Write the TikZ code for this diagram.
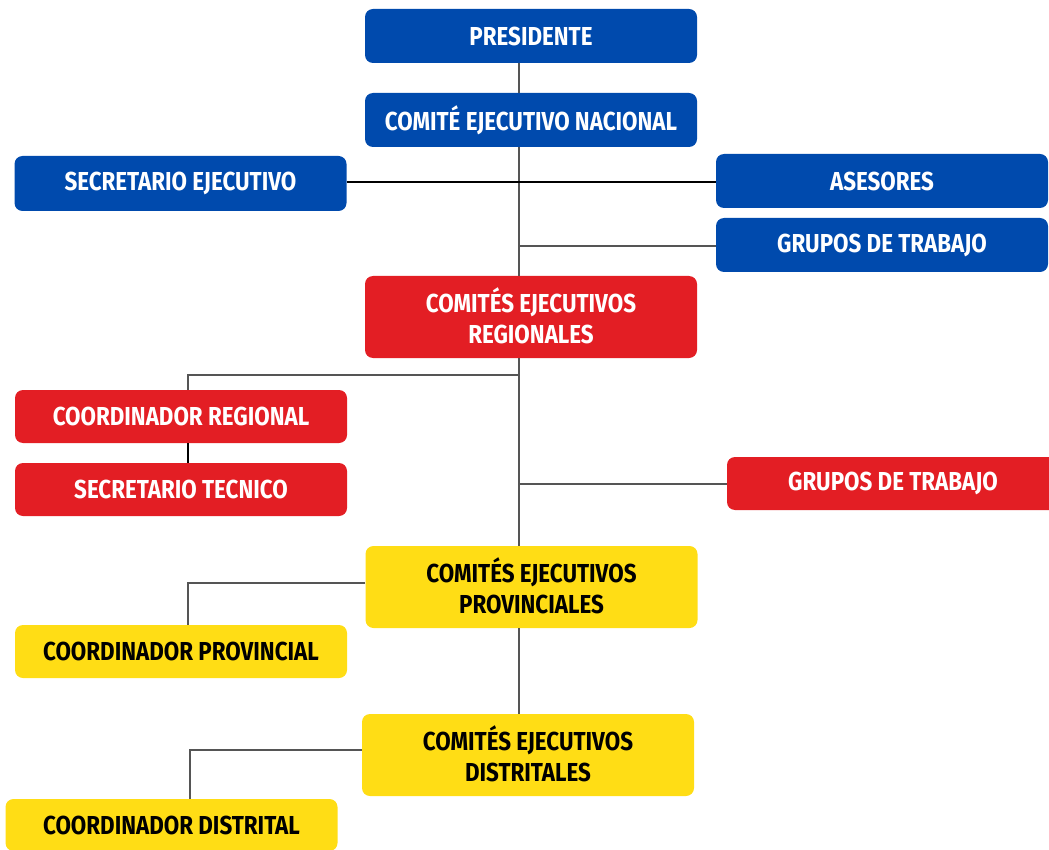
\documentclass[tikz,border=0pt]{standalone}
\usepackage{fontspec}
\setmainfont{Fira Sans}[FakeStretch=0.86]
\usetikzlibrary{positioning}
\definecolor{cblue}{RGB}{0,74,173}
\definecolor{cred}{RGB}{227,30,36}
\definecolor{cyel}{RGB}{255,221,21}
\definecolor{lgray}{RGB}{85,85,85}
\begin{document}
\begin{tikzpicture}[x=1pt,y=-1pt,
  box/.style={rectangle, rounded corners=8pt, inner sep=0pt, align=center,
    font=\fontsize{26}{31}\selectfont\bfseries},
  bluebox/.style={box, fill=cblue, text=white},
  redbox/.style={box, fill=cred, text=white},
  yelbox/.style={box, fill=cyel, text=black},
  wide/.style={minimum width=332pt, minimum height=54pt},
  tall/.style={minimum width=332pt, minimum height=82pt, text depth=3pt},
  conn/.style={draw=lgray, line width=1.2pt},
  strong/.style={draw=black, line width=2pt}]
\useasboundingbox (0,0) rectangle (1049,850);
\clip (0,0) rectangle (1049,850);
% nodes
\node[bluebox, wide] (pres) at (531,36) {PRESIDENTE};
\node[bluebox, wide] (cen) at (531,120) {COMITÉ EJECUTIVO NACIONAL};
\node[bluebox, wide, minimum height=55pt] (sec) at (180.5,183.5) {SECRETARIO EJECUTIVO};
\node[bluebox, wide] (ase) at (882,181) {ASESORES};
\node[bluebox, wide] (gt1) at (882,245) {GRUPOS DE TRABAJO};
\node[redbox, tall] (cer) at (531,317) {COMITÉS EJECUTIVOS\\REGIONALES};
\node[redbox, wide, minimum height=53pt] (cr) at (181,416.5) {COORDINADOR REGIONAL};
\node[redbox, wide, minimum height=53pt] (st) at (181,489.5) {SECRETARIO TECNICO};
\node[redbox, minimum width=332pt, minimum height=53pt] (gt2) at (893,483.5) {GRUPOS DE TRABAJO};
\node[yelbox, tall] (cep) at (531.5,587) {COMITÉS EJECUTIVOS\\PROVINCIALES};
\node[yelbox, wide, minimum height=53pt] (cp) at (181,651.5) {COORDINADOR PROVINCIAL};
\node[yelbox, tall] (ced) at (528,755) {COMITÉS EJECUTIVOS\\DISTRITALES};
\node[yelbox, wide, minimum height=52pt] (cd) at (171.5,825) {COORDINADOR DISTRITAL};
% trunk coordinates
\coordinate (j1) at (519,182);
\coordinate (j2) at (519,246);
\coordinate (j3) at (519,375);
\coordinate (j4) at (519,484);
\coordinate (k1) at (188,375);
\coordinate (k2) at (188,583);
\coordinate (k3) at (190,750);
% connectors
\draw[conn] (pres.south -| j1) -- (cen.north -| j1);
\draw[conn] (cen.south -| j1) -- (cer.north -| j1);
\draw[strong] (sec.east |- j1) -- (ase.west |- j1);
\draw[conn] (j2) -- (gt1.west |- j2);
\draw[conn] (cer.south -| j1) -- (cep.north -| j1);
\draw[conn] (j3) -- (k1) -- (cr.north -| k1);
\draw[strong, line width=1.6pt] (cr.south -| k1) -- (st.north -| k1);
\draw[conn] (j4) -- (gt2.west |- j4);
\draw[conn] (cep.south -| j1) -- (ced.north -| j1);
\draw[conn] (cep.west |- k2) -- (k2) -- (cp.north -| k2);
\draw[conn] (ced.west |- k3) -- (k3) -- (cd.north -| k3);
\end{tikzpicture}
\end{document}
